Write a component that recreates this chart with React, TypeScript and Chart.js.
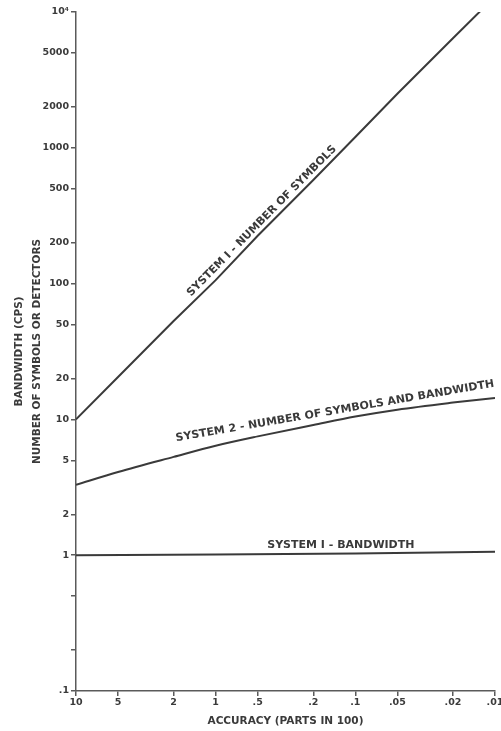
import React, { useEffect, useRef } from 'react';
import { Chart, registerables } from 'chart.js';

Chart.register(...registerables);

// ---- data ----
const accuracy = [10, 5, 2, 1, 0.5, 0.2, 0.1, 0.05, 0.02, 0.01];
const system1Symbols = [10, 20.5, 53, 106, 225, 580, 1200, 2500, 6400, 13000];
const system2Symbols = [3.3, 4.1, 5.3, 6.4, 7.5, 9.1, 10.5, 11.8, 13.3, 14.4];
const bandwidthAccuracy = [10, 1, 0.1, 0.01];
const system1Bandwidth = [1.0, 1.01, 1.03, 1.06];

const xTickValues = [10, 5, 2, 1, 0.5, 0.2, 0.1, 0.05, 0.02, 0.01];
const xTickLabels = ['10', '5', '2', '1', '.5', '.2', '.1', '.05', '.02', '.01'];
const yTickValues = [0.1, 0.2, 0.5, 1, 2, 5, 10, 20, 50, 100, 200, 500, 1000, 2000, 5000, 10000];
const yTickLabels = ['.1', '', '', '1', '2', '5', '10', '20', '50', '100', '200', '500', '1000', '2000', '5000', '10\u2074'];

const seriesLabels = [
  'SYSTEM I - NUMBER OF SYMBOLS',
  'SYSTEM 2 - NUMBER OF SYMBOLS AND BANDWIDTH',
  'SYSTEM I - BANDWIDTH',
];
const labelAccuracy = [0.467, 0.14, 0.127];
const labelValue = [289, 11.5, 1.19];

const xTitle = 'ACCURACY (PARTS IN 100)';
const yTitle = ['BANDWIDTH (CPS)', 'NUMBER OF SYMBOLS OR DETECTORS'];

const INK = '#3a3a3a';
const AXIS = '#5a5a5a';
const FONT = '"DejaVu Sans", sans-serif';

const lineLabels = {
  id: 'lineLabels',
  afterDatasetsDraw(chart: any) {
    const { ctx, scales } = chart;
    const xs = scales.x;
    const ys = scales.y;
    const m0 = chart.getDatasetMeta(0).data;
    const m1 = chart.getDatasetMeta(1).data;
    const angles = [
      Math.atan2(m0[8].y - m0[0].y, m0[8].x - m0[0].x),
      Math.atan2(m1[9].y - m1[3].y, m1[9].x - m1[3].x),
      0,
    ];
    ctx.save();
    ctx.font = `bold 11px ${FONT}`;
    ctx.fillStyle = INK;
    ctx.textAlign = 'center';
    ctx.textBaseline = 'middle';
    seriesLabels.forEach((t, i) => {
      ctx.save();
      ctx.translate(xs.getPixelForValue(labelAccuracy[i]), ys.getPixelForValue(labelValue[i]));
      ctx.rotate(angles[i]);
      ctx.fillText(t, 0, 0);
      ctx.restore();
    });
    ctx.restore();
  },
};

export default function App() {
  const ref = useRef<HTMLCanvasElement>(null);

  useEffect(() => {
    if (!ref.current) return;
    const chart = new Chart(ref.current, {
      type: 'line',
      data: {
        datasets: [
          {
            label: seriesLabels[0],
            data: accuracy.map((a, i) => ({ x: a, y: system1Symbols[i] })),
            borderColor: INK,
            borderWidth: 2,
            pointRadius: 0,
            tension: 0,
          },
          {
            label: seriesLabels[1],
            data: accuracy.map((a, i) => ({ x: a, y: system2Symbols[i] })),
            borderColor: INK,
            borderWidth: 2,
            pointRadius: 0,
            cubicInterpolationMode: 'monotone',
          },
          {
            label: seriesLabels[2],
            data: bandwidthAccuracy.map((a, i) => ({ x: a, y: system1Bandwidth[i] })),
            borderColor: INK,
            borderWidth: 2,
            pointRadius: 0,
            tension: 0,
          },
        ],
      },
      options: {
        animation: false,
        responsive: false,
        layout: { padding: { left: 8, top: 12, right: 6, bottom: 0 } },
        plugins: {
          legend: { display: false },
          tooltip: { enabled: false },
        },
        scales: {
          x: {
            type: 'logarithmic',
            reverse: true,
            min: 0.01,
            max: 10,
            afterBuildTicks: (s: any) => {
              s.ticks = xTickValues.map((v) => ({ value: v }));
            },
            afterFit: (s: any) => {
              s.height = 40;
              s.paddingLeft = 0;
              s.paddingRight = 0;
            },
            ticks: {
              autoSkip: false,
              maxRotation: 0,
              minRotation: 0,
              padding: 1,
              color: INK,
              font: { family: FONT, size: 9.5, weight: 'bold' },
              callback: (_v: any, i: number) => xTickLabels[i],
            },
            grid: { drawOnChartArea: false, drawTicks: true, tickLength: 5, color: AXIS, lineWidth: 1.5 },
            border: { color: AXIS, width: 1.5 },
            title: {
              display: true,
              text: xTitle,
              color: INK,
              font: { family: FONT, size: 10.5, weight: 'bold' },
              padding: { top: 4, bottom: 3 },
            },
          },
          y: {
            type: 'logarithmic',
            min: 0.1,
            max: 10000,
            afterBuildTicks: (s: any) => {
              s.ticks = yTickValues.map((v) => ({ value: v }));
            },
            afterFit: (s: any) => {
              s.width = 68;
              s.paddingTop = 0;
              s.paddingBottom = 0;
            },
            ticks: {
              autoSkip: false,
              padding: 2,
              color: INK,
              font: { family: FONT, size: 9.5, weight: 'bold' },
              callback: (_v: any, i: number) => yTickLabels[i],
            },
            grid: { drawOnChartArea: false, drawTicks: true, tickLength: 5, color: AXIS, lineWidth: 1.5 },
            border: { color: AXIS, width: 1.5 },
            title: {
              display: true,
              text: yTitle,
              color: INK,
              font: { family: FONT, size: 10.5, weight: 'bold', lineHeight: 1.75 },
              padding: { top: 2, bottom: 0 },
            },
          },
        },
      },
      plugins: [lineLabels],
    } as any);
    return () => chart.destroy();
  }, []);

  return (
    <div style={{ position: 'fixed', left: 0, top: 0, width: 501, height: 731, background: '#fff' }}>
      <canvas ref={ref} width={501} height={731} style={{ display: 'block' }} />
    </div>
  );
}
